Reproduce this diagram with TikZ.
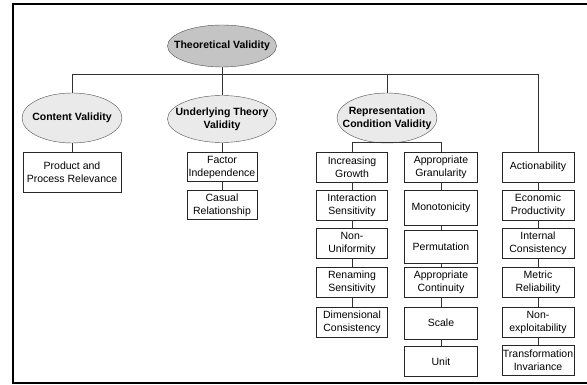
\documentclass[tikz,border=0pt]{standalone}
\usepackage{fontspec}
\setmainfont{Liberation Sans}
\usepackage{xcolor}
\usetikzlibrary{shapes.geometric, positioning}
\definecolor{rootgray}{HTML}{C4C4C4}
\definecolor{subgray}{HTML}{EAEAEA}
\definecolor{edgegray}{HTML}{505050}
\tikzset{
    txt/.style = {font = \fontsize{10.5}{13}\selectfont, align = center, inner sep = 0pt},
    oval/.style = {txt, ellipse, draw = edgegray, inner xsep = -12pt, font = \bfseries\fontsize{10.5}{13}\selectfont},
    rootoval/.style = {oval, fill = rootgray, minimum width = 109pt, minimum height = 42pt},
    suboval/.style = {oval, fill = subgray},
    leaf/.style = {txt, rectangle, draw = black!85, minimum height = 30pt},
    link/.style = {draw = black!80, line width = 0.7pt}
}
\begin{document}
\begin{tikzpicture}[x = 1pt, y = -1pt]
    \useasboundingbox (0, 0) rectangle (587, 385);

    % draw outer frame
    \draw[line width = 2pt] (587, 4.5) -- (13, 4.5) -- (13, 383) -- (587, 383);


    % draw ovals
    \node[rootoval] (tv) at (222, 46) {Theoretical Validity};
    \node[suboval, minimum width = 100pt, minimum height = 50pt] (cv) at (72, 118) {Content Validity};
    \node[suboval, minimum width = 109pt, minimum height = 47pt] (utv) at (222, 119) {Underlying Theory\\Validity};
    \node[suboval, minimum width = 100pt, minimum height = 50pt] (rcv) at (387, 118) {Representation\\Condition Validity};


    % draw content and theory boxes
    \node[leaf, minimum width = 98pt, minimum height = 40pt] (ppr) at (72, 172) {Product and\\Process Relevance};
    \node[leaf, minimum width = 70pt, minimum height = 29pt] (fi) at (222, 167) {Factor\\Independence};
    \node[leaf, minimum width = 70pt, minimum height = 29pt] (cr) at (222, 205) {Casual\\Relationship};


    % draw representation boxes (first column)
    \node[leaf, minimum width = 71pt] (ig) at (352, 167) {Increasing\\Growth};
    \node[leaf, minimum width = 71pt] (is) at (352, 205) {Interaction\\Sensitivity};
    \node[leaf, minimum width = 71pt] (nu) at (352, 243.5) {Non-\\Uniformity};
    \node[leaf, minimum width = 71pt] (rs) at (352, 282.5) {Renaming\\Sensitivity};
    \node[leaf, minimum width = 71pt] (dc) at (352, 322.5) {Dimensional\\Consistency};


    % draw representation boxes (second column)
    \node[leaf, minimum width = 73pt] (ag) at (441, 167) {Appropriate\\Granularity};
    \node[leaf, minimum width = 73pt, minimum height = 35pt] (mo) at (441, 207.5) {Monotonicity};
    \node[leaf, minimum width = 73pt, minimum height = 33pt] (pe) at (441, 246.5) {Permutation};
    \node[leaf, minimum width = 73pt] (ac) at (441, 282.5) {Appropriate\\Continuity};
    \node[leaf, minimum width = 73pt, minimum height = 32pt] (sc) at (441, 323) {Scale};
    \node[leaf, minimum width = 73pt] (un) at (441, 361.5) {Unit};


    % draw remaining boxes
    \node[leaf, minimum width = 72pt] (act) at (538, 167) {Actionability};
    \node[leaf, minimum width = 72pt] (ep) at (538, 205) {Economic\\Productivity};
    \node[leaf, minimum width = 72pt] (ic) at (538, 243.5) {Internal\\Consistency};
    \node[leaf, minimum width = 72pt] (mr) at (538, 282.5) {Metric\\Reliability};
    \node[leaf, minimum width = 72pt] (ne) at (538, 322) {Non-\\exploitability};
    \node[leaf, minimum width = 72pt] (ti) at (538, 360.5) {Transformation\\Invariance};


    % draw top level links
    \coordinate (busL) at (72, 74);
    \coordinate (busR) at (538, 74);
    \draw[link] (cv.north) -- (busL) -- (busR) -- (act.north);
    \draw[link] (tv.south) -- (tv.south |- busL);
    \draw[link] (utv.north) -- (utv.north |- busL);
    \draw[link] (rcv.north) -- (rcv.north |- busL);


    % draw inner links
    \draw[link] (cv.south) -- (ppr.north);
    \draw[link] (utv.south) -- (fi.north);
    \draw[link] (fi.south) -- (cr.north);

    \coordinate (rcL) at (352, 142);
    \coordinate (rcR) at (441, 142);
    \draw[link] (ig.north) -- (rcL) -- (rcR) -- (ag.north);

    \draw[link] (ig) -- (is) -- (nu) -- (rs) -- (dc);
    \draw[link] (ag) -- (mo) -- (pe) -- (ac) -- (sc) -- (un);
    \draw[link] (act) -- (ep) -- (ic) -- (mr) -- (ne) -- (ti);

\end{tikzpicture}
\end{document}
